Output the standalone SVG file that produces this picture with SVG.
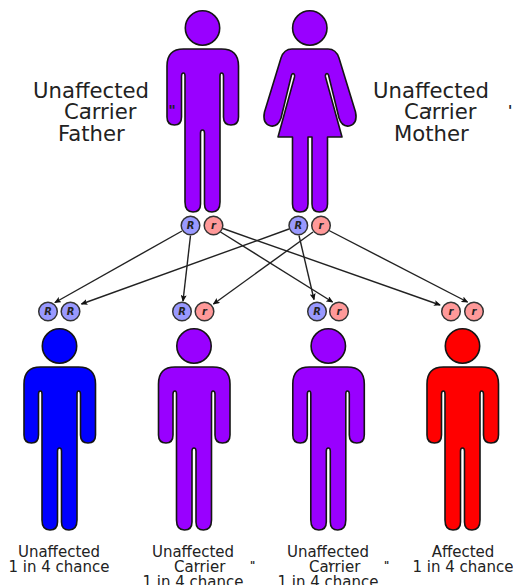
<svg xmlns="http://www.w3.org/2000/svg" width="513" height="585" viewBox="0 0 513 585">
<style>
.fig{stroke:#151515;stroke-width:1.6;stroke-linejoin:round}
.p{fill:#9900ff}.b{fill:#0000ff}.d{fill:#ff0000}
.al circle{stroke:#333;stroke-width:1.5}
.R{fill:#9999ff}.r{fill:#ff9999}
.al text{font:italic bold 10px "DejaVu Sans",sans-serif;fill:#222;text-anchor:middle}
.big{font:21.2px "DejaVu Sans",sans-serif;fill:#222}
.small{font:15px "DejaVu Sans",sans-serif;fill:#222}
.tick{font:bold 14px "DejaVu Sans",sans-serif;fill:#222}
.tk2{font:bold 10px "DejaVu Sans",sans-serif;fill:#222}
.arr{stroke:#222;stroke-width:1.4;fill:none;marker-end:url(#a)}
</style>
<defs>
<marker id="a" markerWidth="7" markerHeight="6" refX="6" refY="3" orient="auto" markerUnits="userSpaceOnUse"><path d="M0 0L7 3L0 6L1.500 3Z" fill="#111"/></marker>
<g id="man">
<circle cx="0" cy="28" r="17.200"/>
<path d="M-19 49H19Q36 49 36 66V117Q36 125 28.500 125Q21 125 21 117V76Q21 73 19 73Q17.500 73 17.500 76V202Q17.500 212 9.500 212Q2 212 2 204V133Q2 130 0 130Q-2 130 -2 133V204Q-2 212 -9.500 212Q-17.500 212 -17.500 202V76Q-17.500 73 -19 73Q-21 73 -21 76V117Q-21 125 -28 125Q-35.500 125 -35.500 117V66Q-35.500 49 -19 49Z"/>
</g>
</defs>
<g id="connectors">
<path class="arr" d="M182 231L55 302.500"/>
<path class="arr" d="M289 229L81.500 304"/>
<path class="arr" d="M190.500 235.500L183 301"/>
<path class="arr" d="M313 232L213.500 304"/>
<path class="arr" d="M299 235.500L314 299.500"/>
<path class="arr" d="M220.500 232L332.500 302"/>
<path class="arr" d="M223 228.500L440 305"/>
<path class="arr" d="M329 230.500L467.500 302"/>
</g>
<g id="father">
<use href="#man" x="202.500" class="fig p"/>
<text class="big" x="33" y="98">Unaffected</text>
<text class="big" x="64" y="119">Carrier</text>
<text class="big" x="58" y="141">Father</text>
<text class="tick" x="87" y="117">'</text>
<text class="tick" x="168.500" y="115">"</text>
<g class="al"><circle class="R" cx="190.500" cy="225.500" r="9.300"/><text x="190.500" y="229">R</text><circle class="r" cx="213.500" cy="225.500" r="9.300"/><text x="213.500" y="229">r</text></g>
</g>
<g id="mother">
<circle cx="309.800" cy="28" r="17.200" class="fig p"/>
<path class="fig p" d="M292 49H328Q336 49 339 58L355.500 112Q358 124 349 126Q342 127 339 118L328.500 75Q327.500 73 326 74Q325 75 325.500 77L342 137H327.500V204Q327.500 212 319.500 212Q312 212 312 204V137H308V204Q308 212 300 212Q292.500 212 292.500 204V137H278L294.500 77Q295 75 294 74Q292.500 73 291.500 75L281 118Q278 127 271 126Q262 124 264.500 112L281 58Q284 49 292 49Z"/>
<text class="big" x="373" y="98">Unaffected</text>
<text class="big" x="404" y="119">Carrier</text>
<text class="big" x="394" y="141">Mother</text>
<text class="tick" x="428" y="117">'</text>
<text class="tick" x="508" y="115">'</text>
<g class="al"><circle class="R" cx="298.300" cy="225.500" r="9.300"/><text x="298.300" y="229">R</text><circle class="r" cx="321" cy="225.500" r="9.300"/><text x="321" y="229">r</text></g>
</g>
<g id="child1">
<use href="#man" x="59.500" y="318" class="fig b"/>
<g class="al"><circle class="R" cx="48" cy="311.500" r="9.300"/><text x="48" y="315">R</text><circle class="R" cx="70.500" cy="311.500" r="9.300"/><text x="70.500" y="315">R</text></g>
<text class="small" x="59" y="557" text-anchor="middle">Unaffected</text>
<text class="small" x="59" y="572" text-anchor="middle">1 in 4 chance</text>
</g>
<g id="child2">
<use href="#man" x="194" y="318" class="fig p"/>
<g class="al"><circle class="R" cx="182" cy="311.500" r="9.300"/><text x="182" y="315">R</text><circle class="r" cx="204.500" cy="311.500" r="9.300"/><text x="204.500" y="315">r</text></g>
<text class="small" x="193" y="557" text-anchor="middle">Unaffected</text>
<text class="small" x="174" y="572">Carrier</text>
<text class="small" x="193" y="587" text-anchor="middle">1 in 4 chance</text>
<text class="tk2" x="194" y="570">'</text>
<text class="tk2" x="250" y="569">"</text>
</g>
<g id="child3">
<use href="#man" x="328.300" y="318" class="fig p"/>
<g class="al"><circle class="R" cx="317" cy="311.500" r="9.300"/><text x="317" y="315">R</text><circle class="r" cx="339" cy="311.500" r="9.300"/><text x="339" y="315">r</text></g>
<text class="small" x="328" y="557" text-anchor="middle">Unaffected</text>
<text class="small" x="309" y="572">Carrier</text>
<text class="small" x="328" y="587" text-anchor="middle">1 in 4 chance</text>
<text class="tk2" x="328" y="570">'</text>
<text class="tk2" x="384" y="569">"</text>
</g>
<g id="child4">
<use href="#man" x="462.500" y="318" class="fig d"/>
<g class="al"><circle class="r" cx="451" cy="311.500" r="9.300"/><text x="451" y="315">r</text><circle class="r" cx="474" cy="311.500" r="9.300"/><text x="474" y="315">r</text></g>
<text class="small" x="463" y="557" text-anchor="middle">Affected</text>
<text class="small" x="463" y="572" text-anchor="middle">1 in 4 chance</text>
</g>
</svg>
